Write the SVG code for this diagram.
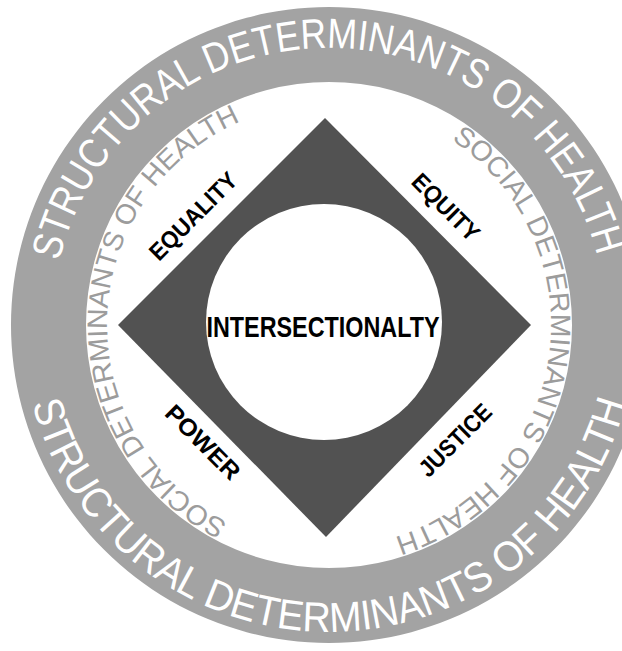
<svg xmlns="http://www.w3.org/2000/svg" width="622" height="651" viewBox="0 0 622 651">
<style>
.outer{font-family:"Liberation Sans",Arial,sans-serif;font-size:42px;fill:#ffffff}
.inner{font-family:"Liberation Sans",Arial,sans-serif;font-size:28px;fill:#9c9c9c}
.lbl{font-family:"Liberation Sans",Arial,sans-serif;font-size:24px;font-weight:bold;fill:#000000;text-anchor:middle}
.core{font-family:"Liberation Sans",Arial,sans-serif;font-size:30px;font-weight:bold;fill:#000000;text-anchor:middle}
</style>
<defs>
<path id="pTop" d="M59.4,261.3 A277,277 0 0 1 601.8,276.9"/>
<path id="pBot" d="M32.2,403.4 A307,307 0 0 0 631.3,378.3"/>
<path id="pIn1" d="M227.9,522.6 A222,222 0 0 1 253.1,116.4"/>
<path id="pIn2" d="M451.5,139.9 A222,222 0 0 1 382.7,540.4"/>
</defs>
<rect width="622" height="651" fill="#ffffff"/>
<g id="structural-ring">
<path d="M329,7 A318,318 0 1 1 328.99,7 Z M329,82 A243,243 0 1 0 329.01,82 Z" fill="#a3a3a3" fill-rule="evenodd"/>
<text class="outer"><textPath href="#pTop" textLength="736" lengthAdjust="spacingAndGlyphs">STRUCTURAL DETERMINANTS OF HEALTH</textPath></text>
<text class="outer"><textPath href="#pBot" textLength="806" lengthAdjust="spacingAndGlyphs">STRUCTURAL DETERMINANTS OF HEALTH</textPath></text>
</g>
<g id="social-ring">
<text class="inner"><textPath href="#pIn1" textLength="501" lengthAdjust="spacingAndGlyphs">SOCIAL DETERMINANTS OF HEALTH</textPath></text>
<text class="inner"><textPath href="#pIn2" textLength="501" lengthAdjust="spacingAndGlyphs">SOCIAL DETERMINANTS OF HEALTH</textPath></text>
</g>
<g id="diamond">
<polygon points="325,118 531,325 326,537 118,325" fill="#525252"/>
</g>
<g id="intersectionality">
<circle cx="324" cy="322" r="118" fill="#ffffff"/>
<text class="core" x="323" y="337" textLength="233" lengthAdjust="spacingAndGlyphs">INTERSECTIONALTY</text>
</g>
<g id="equality"><text class="lbl" transform="translate(193,216) rotate(-45)" x="0" y="8.5" textLength="113" lengthAdjust="spacingAndGlyphs">EQUALITY</text></g>
<g id="equity"><text class="lbl" transform="translate(446,207) rotate(45)" x="0" y="8.5" textLength="85" lengthAdjust="spacingAndGlyphs">EQUITY</text></g>
<g id="power"><text class="lbl" transform="translate(203,442) rotate(45)" x="0" y="8.5" textLength="95" lengthAdjust="spacingAndGlyphs">POWER</text></g>
<g id="justice"><text class="lbl" transform="translate(455,440) rotate(-45)" x="0" y="8.5" textLength="92" lengthAdjust="spacingAndGlyphs">JUSTICE</text></g>
</svg>
